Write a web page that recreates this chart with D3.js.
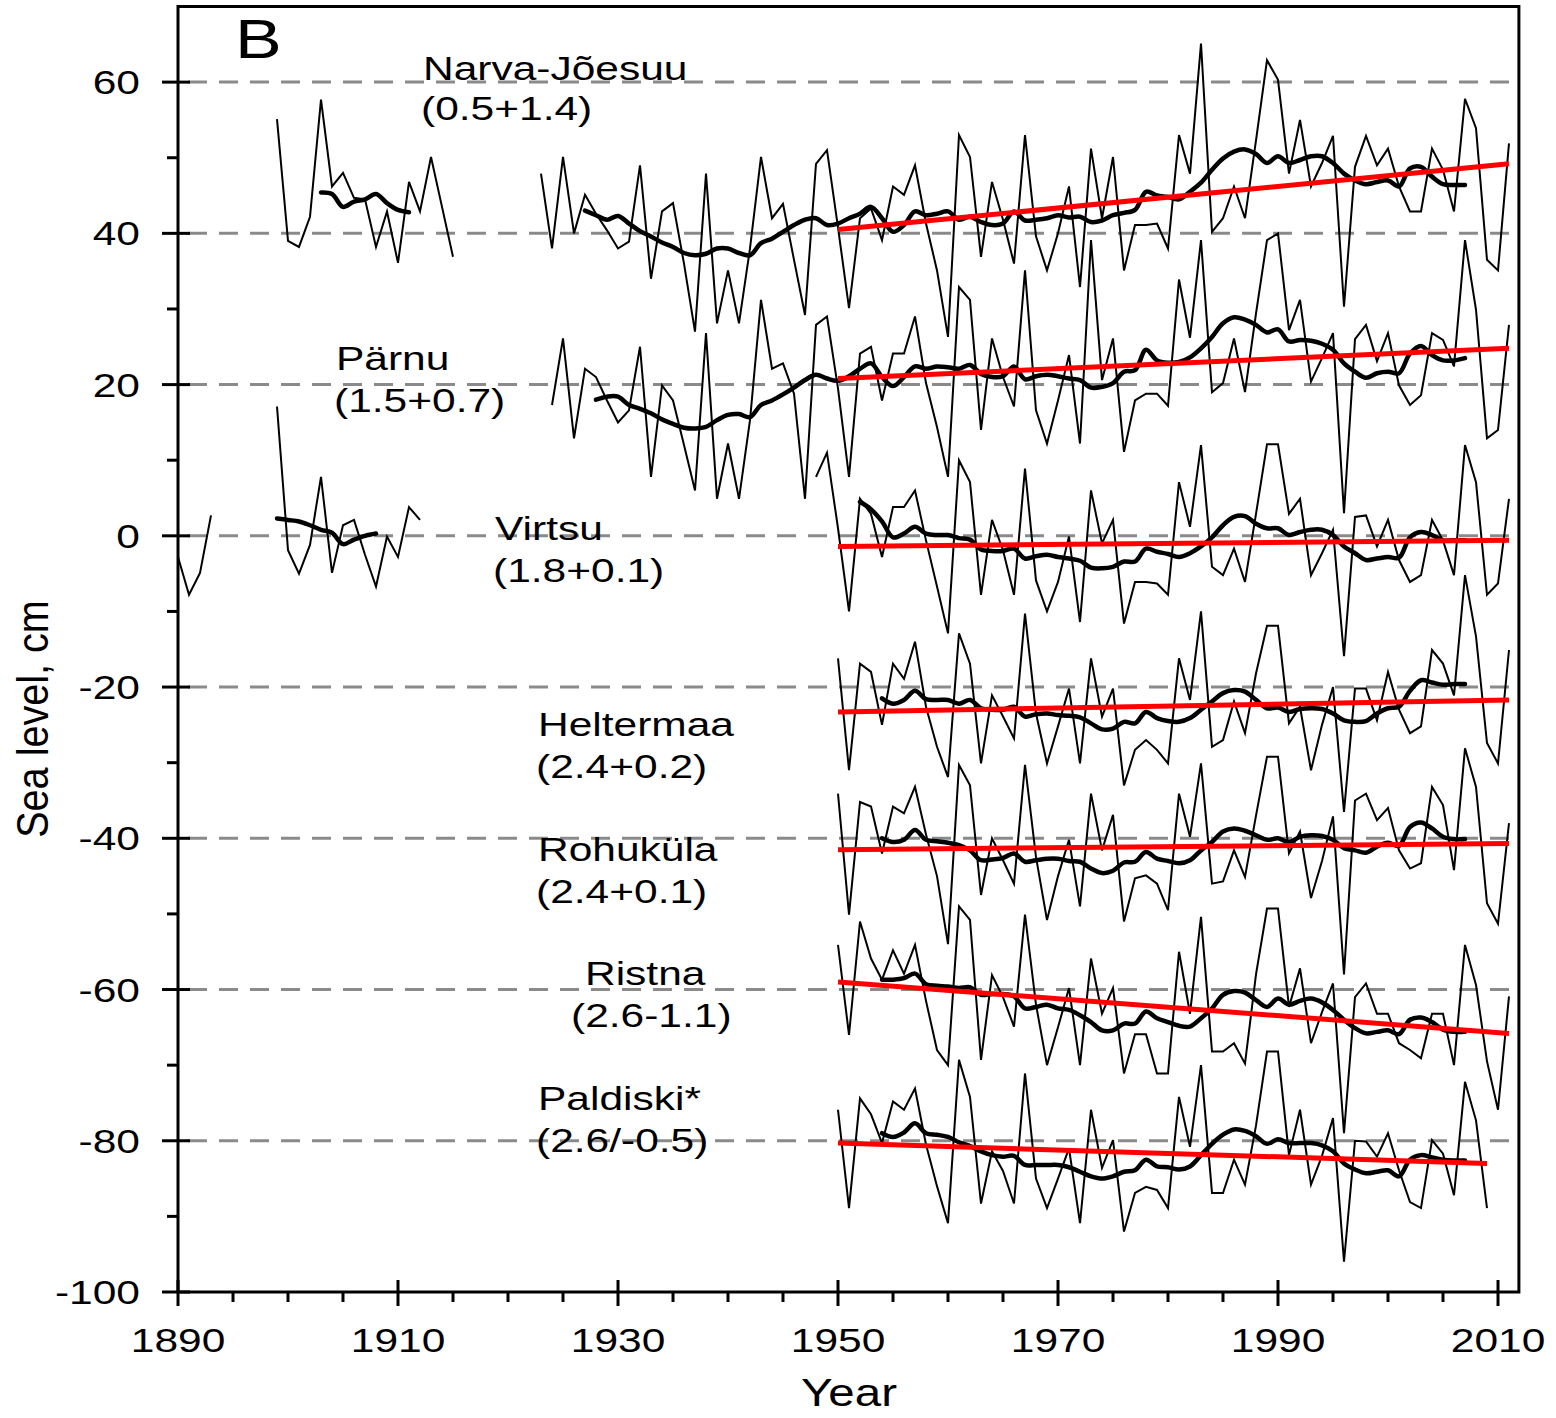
<!DOCTYPE html>
<html>
<head>
<meta charset="utf-8">
<script src="https://cdn.jsdelivr.net/npm/d3@7"></script>
<style>
  body { margin: 0; background: #fff; }
  text { font-family: "Liberation Sans", Arial, sans-serif; fill: #000; }
</style>
</head>
<body>
<svg id="chart" width="1556" height="1418"></svg>
<script>
// annual mean sea level, cm (thin), running mean (thick), 1950-2011 trend (red)
var narvaThinA = [55.1, 39, 38.2, 42.2, 57.7, 46.2, 48, 44.7, 44.5, 38.2, 42.9, 36.1, 46.8, 42.9, 50.1, 43.5, 36.9];
var narvaThinB = [47.9, 38.0, 50.1, 40.0, 45.1, 42.6, 40.4, 38.0, 38.9, 49.0, 34.0, 42.9, 44.0, 36.0, 27.0, 47.9, 28.1, 35.1, 28.1, 38.0,
  50.1, 42.0, 43.9, 36.5, 29.2, 49.2, 51.0, 40.8, 30.1, 42.0, 43.3, 39.1, 46.2, 45.1, 49.0, 41.3, 35.1, 26.3, 53.0, 50.1,
  36.9, 46.8, 41.8, 36.0, 53.0, 39.6, 35.1, 40.0, 46.2, 32.9, 51.2, 42.0, 50.1, 35.1, 41.1, 41.1, 41.3, 38.0, 53.0, 47.9,
  65.1, 40.2, 42.0, 46.2, 42.0, 52.3, 62.9, 60.3, 47.9, 55.0, 46.2, 49.3, 52.9, 30.3, 48.8, 52.9, 49.0, 51.2, 46.2, 42.9,
  42.9, 51.2, 48.4, 42.9, 57.8, 53.9, 36.5, 35.1, 51.9];
var narvaSmoothA = [45.4, 45.2, 43.5, 44.2, 44.5, 45.2, 44, 43.1, 42.8];
var narvaSmoothB = [43.0, 42.4, 41.8, 42.3, 41.3, 40.3, 39.6, 38.8, 38.2, 37.4, 37.1, 37.3, 38.0, 38.0, 37.4, 37.1, 38.7, 39.3, 40.2, 41.1,
  41.8, 42.0, 41.1, 41.3, 42.0, 42.6, 43.5, 42.0, 40.2, 41.1, 42.9, 42.4, 42.6, 42.9, 41.8, 42.2, 41.5, 41.1, 41.3, 42.9,
  41.7, 41.8, 42.0, 42.4, 42.1, 42.2, 41.5, 41.7, 42.4, 42.7, 43.1, 45.5, 45.0, 44.8, 44.5, 45.5, 46.7, 48.4, 49.9, 50.8,
  51.1, 50.5, 49.3, 50.2, 49.3, 49.7, 50.2, 50.2, 49.3, 47.9, 47.0, 46.5, 46.8, 47.0, 46.2, 48.6, 48.8, 47.5, 46.5, 46.4, 46.4];
var narvaTrend = [40.5, 49.2];

var parnuThin = [17.3, 26.1, 12.9, 22.1, 21.0, 17.9, 15.0, 16.6, 25.0, 7.8, 19.9, 17.9, 12.0, 6.0, 26.8, 4.9, 12.2, 4.9, 15.3, 31.2,
  22.1, 22.8, 18.8, 4.9, 27.9, 29.0, 19.5, 7.8, 24.1, 25.0, 17.9, 24.1, 24.1, 29.0, 20.2, 14.4, 7.8, 32.9, 31.2, 14.0,
  26.1, 21.0, 17.1, 35.1, 16.6, 12.2, 17.9, 23.9, 12.2, 39.1, 20.6, 26.1, 11.1, 17.9, 18.8, 18.8, 17.2, 33.9, 26.2, 39.1,
  19.0, 20.2, 26.1, 19.0, 29.4, 39.1, 40.0, 27.2, 31.2, 20.4, 23.5, 26.8, 3.0, 26.0, 27.9, 23.1, 26.8, 19.9, 17.3, 18.6,
  26.8, 25.9, 22.4, 39.1, 29.9, 12.9, 14.0, 27.9];
var parnuSmooth = [18.0, 18.4, 18.4, 17.3, 16.8, 16.2, 15.4, 14.8, 14.3, 14.2, 14.4, 15.3, 16.0, 16.1, 15.7, 17.3, 17.9, 18.7, 19.6, 20.6,
  21.3, 20.8, 20.5, 21.1, 22.1, 22.8, 21.0, 19.8, 21.0, 22.4, 22.1, 22.4, 22.3, 22.1, 22.6, 21.4, 21.0, 21.1, 22.4, 20.7,
  21.1, 21.3, 21.1, 20.8, 20.6, 19.6, 19.7, 20.2, 21.7, 21.9, 24.6, 23.2, 22.9, 23.0, 23.6, 24.8, 26.3, 28.1, 28.9, 28.6,
  27.9, 26.9, 27.3, 25.7, 25.9, 25.8, 25.4, 24.6, 22.8, 21.7, 20.9, 21.5, 21.7, 21.5, 24.1, 25.1, 23.9, 23.2, 23.2, 23.5];
var parnuTrend = [20.8, 24.8];

var virtsuThinA = [-2.8, -7.8, -4.9, 2.7];
var virtsuThinB = [17.1, -1.9, -5, -1.2, 7.8, -4.9, 1.4, 2.1, -2.5, -6.7, -0.1, -2.8, 3.8, 2.1];
var virtsuThinC = [7.8, 11.0, 1.0, -10.0, 4.9, 2.9, -2.8, 3.8, 3.8, 6.0, -0.6, -6.7, -12.9, 10.0, 7.1, -7.8, 2.1, -1.9, -7.8, 8.9,
  -5.9, -10.0, -6.1, -0.1, -11.4, 6.0, -1.0, 2.1, -11.6, -6.1, -6.1, -6.3, -7.8, 7.1, 1.2, 12.0, -4.1, -5.2, -1.7, -6.1,
  2.9, 12.1, 12.1, 2.9, 4.9, -5.2, -2.3, 0.8, -15.9, 2.5, 2.7, -1.4, 2.1, -3.2, -6.1, -5.2, 2.1, -0.6, -5.2, 12.0,
  7.1, -7.8, -6.3, 4.9];
var virtsuSmoothA = [2.3, 2.1, 1.9, 1.4, 0.8, 0.4, -1.1, -0.5, 0, 0.3];
var virtsuSmoothB = [4.5, 3.5, 1.9, -0.2, 0.3, 1.2, 0.3, 0.1, 0.1, -0.3, -0.5, -1.8, -2.0, -2.0, -1.7, -3.0, -2.7, -2.5, -2.8, -3.0,
  -3.3, -4.2, -4.3, -4.1, -3.4, -3.4, -1.7, -2.1, -2.4, -2.8, -2.3, -1.4, -0.2, 1.4, 2.5, 2.6, 1.6, 1.0, 1.0, 0.1,
  0.5, 0.8, 0.8, 0.1, -1.4, -2.3, -3.2, -3.0, -2.8, -2.9, -0.2, 0.5, 0.1, -0.6, -0.6, -0.6];
var virtsuTrend = [-1.4, -0.6];

var heltermaaThin = [-16.2, -31.0, -16.9, -18.0, -25.0, -16.9, -18.9, -14.0, -22.6, -27.9, -31.9, -12.9, -16.9, -30.1, -21.1, -23.9, -26.8, -10.3, -23.5, -30.1,
  -25.2, -20.2, -30.1, -16.2, -23.9, -20.2, -33.0, -28.3, -27.0, -28.3, -30.1, -16.2, -21.7, -10.0, -27.9, -27.0, -21.9, -26.1, -18.2, -11.9,
  -11.9, -24.8, -22.6, -31.0, -25.0, -20.0, -36.5, -20.2, -20.2, -24.4, -18.0, -23.0, -26.1, -25.2, -15.1, -16.9, -21.1, -5.2, -13.3, -27.4,
  -30.1, -15.1];
var heltermaaSmooth = [-21.5, -22.2, -21.7, -20.5, -21.6, -21.7, -21.7, -22.2, -21.7, -22.8, -23.0, -23.0, -22.6, -23.9, -23.6, -23.5, -23.7, -23.8, -24.0, -24.8,
  -25.6, -25.5, -24.6, -24.8, -23.3, -24.1, -24.5, -24.6, -24.1, -23.0, -21.9, -20.8, -20.4, -20.6, -21.7, -22.8, -22.7, -23.3, -22.9, -22.8,
  -22.9, -23.5, -24.4, -24.6, -24.5, -23.5, -22.8, -22.6, -20.5, -19.1, -19.4, -19.7, -19.6, -19.6];
var heltermaaTrend = [-23.3, -21.7];

var rohukylaThin = [-34.1, -50.1, -35.2, -35.8, -42.0, -35.8, -36.7, -33.2, -39.5, -45.0, -54.0, -30.3, -33.0, -47.5, -40.0, -42.9, -46.0, -30.3, -42.5, -50.8,
  -45.0, -40.2, -49.0, -34.1, -41.6, -36.9, -51.0, -45.3, -44.9, -46.0, -49.5, -34.1, -39.8, -30.1, -46.0, -45.7, -41.6, -45.1, -37.0, -29.2,
  -29.2, -42.0, -39.1, -47.9, -43.0, -37.1, -58.0, -35.0, -34.1, -37.6, -36.0, -41.6, -44.0, -43.3, -33.2, -35.6, -44.2, -28.1, -33.2, -48.6,
  -51.3, -38.0];
var rohukylaSmooth = [-40.0, -40.5, -40.2, -38.9, -40.2, -40.4, -40.6, -40.9, -41.6, -42.9, -42.8, -42.6, -42.0, -43.1, -42.9, -42.7, -42.7, -43.0, -43.1, -44.0,
  -44.6, -44.3, -43.2, -43.1, -41.8, -42.7, -43.0, -43.3, -42.9, -41.6, -40.5, -39.1, -38.7, -39.0, -39.6, -40.2, -40.0, -40.5, -39.8, -39.6,
  -39.7, -40.2, -41.3, -41.6, -41.9, -41.1, -40.6, -41.0, -38.5, -37.9, -38.7, -39.8, -40.1, -40.1];
var rohukylaTrend = [-41.5, -40.7];

var ristnaThin = [-54.1, -66.0, -51.0, -55.9, -58.7, -54.8, -57.9, -54.1, -61.5, -68.0, -70.0, -49.0, -50.8, -69.3, -58.1, -61.0, -64.9, -50.1, -62.0, -70.0,
  -65.0, -59.8, -70.0, -55.9, -63.2, -59.8, -71.1, -65.9, -65.9, -71.1, -71.1, -55.0, -63.2, -50.4, -68.2, -68.2, -67.1, -69.8, -58.0, -49.3,
  -49.3, -62.3, -57.2, -67.1, -63.0, -59.2, -79.0, -61.0, -59.2, -63.2, -63.2, -67.1, -68.0, -69.1, -63.2, -63.2, -70.0, -54.1, -59.4, -69.5,
  -75.9, -60.9];
var ristnaSmooth = [-58.7, -58.7, -58.5, -57.9, -59.3, -59.5, -59.6, -59.8, -59.7, -60.7, -60.6, -60.6, -60.9, -62.5, -62.3, -62.0, -62.5, -62.7, -63.4, -64.3,
  -65.4, -65.4, -64.5, -64.5, -62.9, -63.8, -64.3, -64.8, -64.9, -63.8, -62.5, -60.7, -60.2, -60.4, -61.4, -62.3, -61.2, -62.0, -61.5, -61.2,
  -61.7, -62.7, -64.0, -65.1, -65.8, -65.6, -65.4, -65.9, -64.0, -63.7, -64.3, -65.3, -65.6, -65.6];
var ristnaTrend = [-59.0, -65.8];

var paldiskiThin = [-75.9, -88.9, -74.4, -76.5, -80.3, -74.8, -75.9, -73.1, -80.5, -86.0, -90.9, -69.3, -74.2, -88.3, -81.4, -84.0, -88.3, -71.1, -85.0, -88.9,
  -85.0, -81.0, -90.9, -75.9, -83.6, -79.9, -92.0, -86.9, -86.1, -86.5, -88.9, -74.2, -80.8, -70.0, -86.9, -86.9, -82.5, -85.8, -78.0, -68.2,
  -68.2, -81.9, -75.9, -85.8, -82.0, -77.0, -96.0, -80.0, -80.1, -82.1, -79.0, -83.9, -88.1, -88.9, -79.9, -81.7, -87.2, -72.2, -77.3, -88.9];
var paldiskiSmooth = [-79.0, -79.5, -78.9, -77.7, -79.0, -79.2, -79.5, -80.2, -80.7, -81.4, -81.9, -82.1, -82.0, -83.2, -83.2, -83.2, -83.2, -83.5, -84.1, -84.7,
  -85.0, -84.7, -84.1, -83.9, -82.5, -83.4, -83.5, -83.8, -83.4, -81.9, -80.4, -79.2, -78.5, -78.7, -79.4, -80.4, -79.8, -80.3, -80.3, -80.3,
  -80.6, -81.4, -83.0, -83.8, -84.3, -84.1, -83.9, -84.7, -82.5, -81.9, -82.2, -82.5, -82.6, -82.6];
var paldiskiTrend = [-80.3, -83.0];

var yTicks = [-100, -80, -60, -40, -20, 0, 20, 40, 60];
var yMinor = [-90, -70, -50, -30, -10, 10, 30, 50];
var gridLevels = [-80, -60, -40, -20, 0, 20, 40, 60];
var xTicks = [1890, 1910, 1930, 1950, 1970, 1990, 2010];

var labelNames = ["Narva-Jõesuu", "Pärnu", "Virtsu", "Heltermaa", "Rohuküla", "Ristna", "Paldiski*"];
var labelRates = ["(0.5+1.4)", "(1.5+0.7)", "(1.8+0.1)", "(2.4+0.2)", "(2.4+0.1)", "(2.6-1.1)", "(2.6/-0.5)"];

function seg(start, vals) {
  return vals.map(function (v, i) { return [start + i, v]; });
}

var thinSegs = [
  seg(1899, narvaThinA), seg(1923, narvaThinB),
  seg(1924, parnuThin),
  seg(1890, virtsuThinA), seg(1899, virtsuThinB), seg(1948, virtsuThinC),
  seg(1950, heltermaaThin), seg(1950, rohukylaThin), seg(1950, ristnaThin), seg(1950, paldiskiThin)
];
var smoothSegs = [
  seg(1903, narvaSmoothA), seg(1927, narvaSmoothB),
  seg(1928, parnuSmooth),
  seg(1899, virtsuSmoothA), seg(1952, virtsuSmoothB),
  seg(1954, heltermaaSmooth), seg(1954, rohukylaSmooth), seg(1954, ristnaSmooth), seg(1954, paldiskiSmooth)
];
var trendSegs = [
  [[1950, narvaTrend[0]], [2011, narvaTrend[1]]],
  [[1950, parnuTrend[0]], [2011, parnuTrend[1]]],
  [[1950, virtsuTrend[0]], [2011, virtsuTrend[1]]],
  [[1950, heltermaaTrend[0]], [2011, heltermaaTrend[1]]],
  [[1950, rohukylaTrend[0]], [2011, rohukylaTrend[1]]],
  [[1950, ristnaTrend[0]], [2011, ristnaTrend[1]]],
  [[1950, paldiskiTrend[0]], [2009, paldiskiTrend[1]]]
];

var svg = d3.select("#chart");
var x = d3.scaleLinear().domain([1890, 2012]).range([178, 1520]);
var y = d3.scaleLinear().domain([-100, 70]).range([1292, 6.5]);
var plotL = x(1890), plotR = x(2011.9), plotT = y(70), plotB = y(-100);
var sx = 1.25; // text in the figure is drawn wide

// dashed reference levels
svg.append("g").selectAll("line")
  .data(gridLevels).enter().append("line")
    .attr("x1", plotL + 10).attr("x2", plotR)
    .attr("y1", function (d) { return y(d); })
    .attr("y2", function (d) { return y(d); })
    .attr("stroke", "#8a8a8a").attr("stroke-width", 3)
    .attr("stroke-dasharray", "19,12");

var line = d3.line().x(function (d) { return x(d[0]); }).y(function (d) { return y(d[1]); });
var smoothLine = d3.line().curve(d3.curveCatmullRom)
  .x(function (d) { return x(d[0]); }).y(function (d) { return y(d[1]); });

svg.append("g").selectAll("path")
  .data(thinSegs).enter().append("path")
    .attr("d", line)
    .attr("fill", "none").attr("stroke", "#000").attr("stroke-width", 2)
    .attr("stroke-linejoin", "miter");

svg.append("g").selectAll("path")
  .data(smoothSegs).enter().append("path")
    .attr("d", smoothLine)
    .attr("fill", "none").attr("stroke", "#000").attr("stroke-width", 4.5)
    .attr("stroke-linejoin", "round").attr("stroke-linecap", "round");

svg.append("g").selectAll("path")
  .data(trendSegs).enter().append("path")
    .attr("d", line)
    .attr("fill", "none").attr("stroke", "#ff0000").attr("stroke-width", 5);

// frame
svg.append("rect")
  .attr("x", plotL).attr("y", plotT)
  .attr("width", plotR - plotL).attr("height", plotB - plotT)
  .attr("fill", "none").attr("stroke", "#000").attr("stroke-width", 3);

// y ticks
var ax = svg.append("g");
ax.selectAll(".ymaj").data(yTicks).enter().append("line")
  .attr("x1", plotL - 16).attr("x2", plotL + 12)
  .attr("y1", function (d) { return y(d); }).attr("y2", function (d) { return y(d); })
  .attr("stroke", "#000").attr("stroke-width", 3);
ax.selectAll(".ymin").data(yMinor).enter().append("line")
  .attr("x1", plotL - 11).attr("x2", plotL)
  .attr("y1", function (d) { return y(d); }).attr("y2", function (d) { return y(d); })
  .attr("stroke", "#000").attr("stroke-width", 3);
ax.selectAll(".ylab").data(yTicks).enter().append("text")
  .attr("transform", function (d) { return "translate(" + (plotL - 38) + "," + (y(d) + 12) + ") scale(" + sx + ",1)"; })
  .attr("text-anchor", "end").attr("font-size", 34)
  .text(function (d) { return d; });

// x ticks
ax.selectAll(".xmaj").data(xTicks).enter().append("line")
  .attr("x1", function (d) { return x(d); }).attr("x2", function (d) { return x(d); })
  .attr("y1", plotB - 12).attr("y2", plotB + 14)
  .attr("stroke", "#000").attr("stroke-width", 3);
ax.selectAll(".xmin").data(d3.range(1895, 2011, 5).filter(function (d) { return (d - 1890) % 20 !== 0; }))
  .enter().append("line")
  .attr("x1", function (d) { return x(d); }).attr("x2", function (d) { return x(d); })
  .attr("y1", plotB).attr("y2", plotB + 10)
  .attr("stroke", "#000").attr("stroke-width", 3);
ax.selectAll(".xlab").data(xTicks).enter().append("text")
  .attr("transform", function (d) { return "translate(" + x(d) + "," + (plotB + 60) + ") scale(" + sx + ",1)"; })
  .attr("text-anchor", "middle").attr("font-size", 34)
  .text(function (d) { return d; });

// axis titles
svg.append("text")
  .attr("transform", "translate(" + x(1951) + ",1406) scale(" + sx + ",1)")
  .attr("text-anchor", "middle").attr("font-size", 38).text("Year");
svg.append("text")
  .attr("transform", "translate(48,719) rotate(-90) scale(1.1,1.25)")
  .attr("text-anchor", "middle").attr("font-size", 36).text("Sea level, cm");

// panel letter
svg.append("text")
  .attr("transform", "translate(235,58) scale(" + sx + ",1)")
  .attr("font-size", 56).text("B");

// station labels
var labelPos = [[423, 80, 421, 120], [336, 370, 334, 412], [495, 540, 493, 582], [538, 736, 536, 778],
  [538, 861, 536, 903], [585, 985, 571, 1027], [538, 1110, 536, 1152]];
labelNames.forEach(function (name, i) {
  var p = labelPos[i];
  svg.append("text")
    .attr("transform", "translate(" + p[0] + "," + p[1] + ") scale(" + sx + ",1)")
    .attr("font-size", 34).text(name);
  svg.append("text")
    .attr("transform", "translate(" + p[2] + "," + p[3] + ") scale(" + sx + ",1)")
    .attr("font-size", 34).text(labelRates[i]);
});
</script>
</body>
</html>
